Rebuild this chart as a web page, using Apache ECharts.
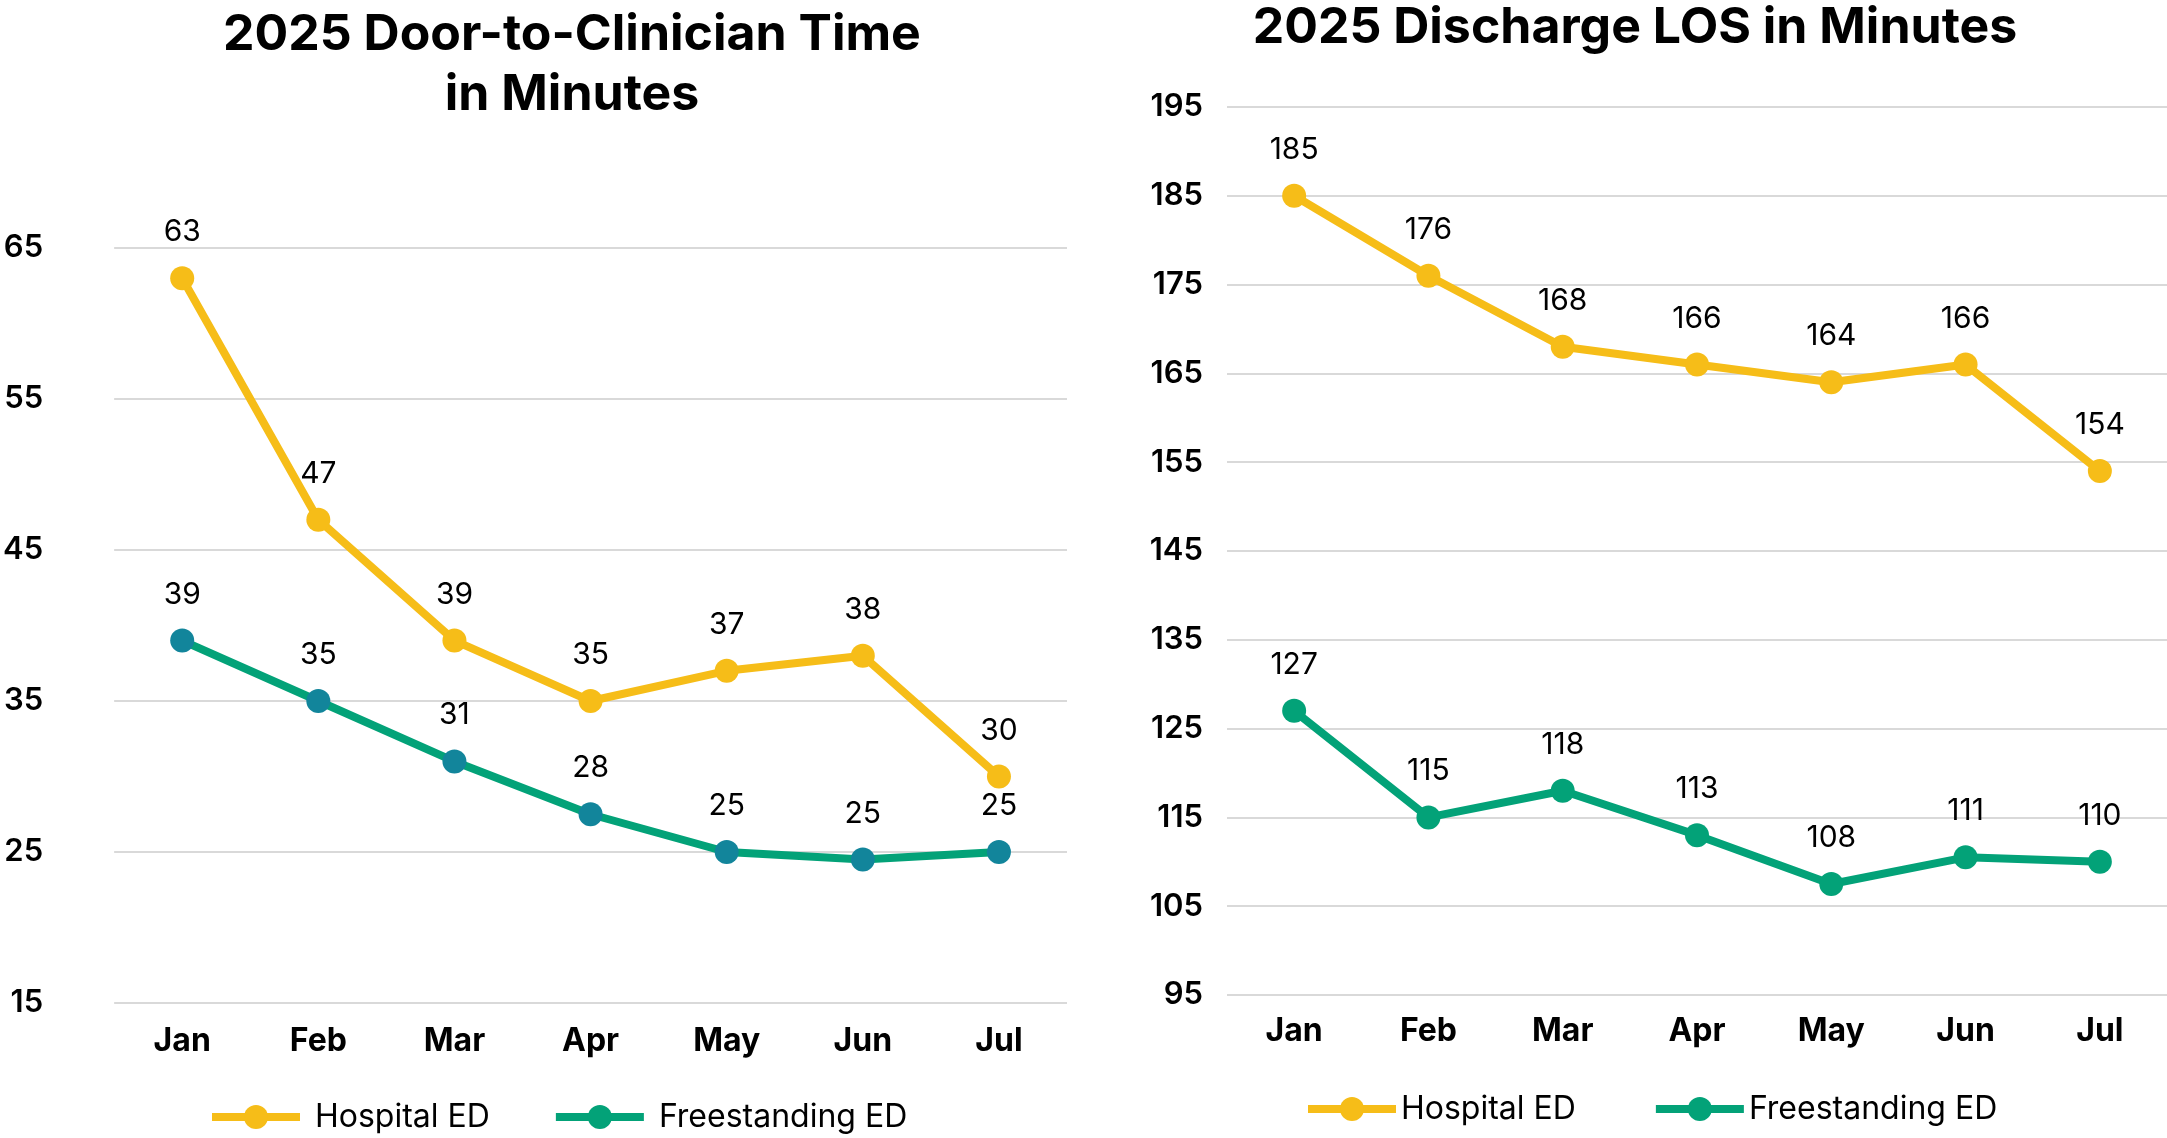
<!DOCTYPE html>
<html>
<head>
<meta charset="utf-8">
<script src="https://cdn.jsdelivr.net/npm/echarts@6/dist/echarts.min.js"></script>
<style>
  html, body { margin: 0; padding: 0; background: #fff; }
  #chart { width: 2167px; height: 1138px; }
</style>
</head>
<body>
<div id="chart"></div>
<script>
  // data
  const months = ["Jan", "Feb", "Mar", "Apr", "May", "Jun", "Jul"];
  const doorHospital = [63, 47, 39, 35, 37, 38, 30];
  const doorFreestanding = [39, 35, 31, 27.5, 25, 24.5, 25];
  const losHospital = [185, 176, 168, 166, 164, 166, 154];
  const losFreestanding = [127, 115, 118, 113, 107.5, 110.5, 110];
  const doorTicks = { min: 15, max: 65, interval: 10 };
  const losTicks = { min: 95, max: 195, interval: 10 };

  const yellow = "#F6BD18";
  const green = "#03A278";
  const teal = "#12859B";
  const font = "Inter";

  const myChart = echarts.init(document.getElementById("chart"));
  window.addEventListener("resize", () => myChart.resize());

  function lineSeries(name, data, axis, lineColor, dotColor) {
    return {
      name: name,
      type: "line",
      xAxisIndex: axis,
      yAxisIndex: axis,
      data: data,
      symbol: "circle",
      symbolSize: 24,
      lineStyle: { color: lineColor, width: 8 },
      itemStyle: { color: dotColor },
      label: {
        show: true,
        position: "top",
        distance: 19,
        fontFamily: font,
        fontSize: 30,
        color: "#000",
        formatter: p => Math.round(p.value)
      },
      emphasis: { disabled: true },
      animation: false
    };
  }

  function xAxis(grid, margin) {
    return {
      type: "category",
      gridIndex: grid,
      data: months,
      axisLine: { show: false },
      axisTick: { show: false },
      axisLabel: { fontFamily: font, fontSize: 32, fontWeight: 700, color: "#000", margin: margin }
    };
  }

  function yAxis(grid, ticks, margin) {
    return {
      type: "value",
      gridIndex: grid,
      min: ticks.min,
      max: ticks.max,
      interval: ticks.interval,
      axisLine: { show: false },
      axisTick: { show: false },
      axisLabel: { fontFamily: font, fontSize: 31, fontWeight: 600, color: "#000", margin: margin },
      splitLine: { lineStyle: { color: "#D9D9D9", width: 2 } }
    };
  }

  function legend(left, top, textGap, itemGap) {
    return {
      left: left, top: top, orient: "horizontal",
      data: [
        { name: "Hospital ED", itemStyle: { color: yellow } },
        { name: "Freestanding ED", itemStyle: { color: green } }
      ],
      itemWidth: 88, itemHeight: 30, itemGap: itemGap,
      selectedMode: false,
      lineStyle: { width: 8 },
      textStyle: { fontFamily: font, fontSize: 32, color: "#000", padding: [0, 0, 0, textGap] }
    };
  }

  const option = {
    backgroundColor: "#fff",
    title: [
      {
        text: "2025 Door-to-Clinician Time\nin Minutes",
        left: 567, top: 0, textAlign: "center",
        textStyle: { fontFamily: font, fontSize: 50, fontWeight: 700, color: "#000", lineHeight: 60 }
      },
      {
        text: "2025 Discharge LOS in Minutes",
        left: 1630, top: -7, textAlign: "center",
        textStyle: { fontFamily: font, fontSize: 50, fontWeight: 700, color: "#000", lineHeight: 60 }
      }
    ],
    legend: [
      legend(203, 1096, 10, 62),
      legend(1299, 1088, 0, 76)
    ],
    grid: [
      { left: 114, top: 248, width: 953, height: 755 },
      { left: 1227, top: 107, width: 940, height: 888 }
    ],
    xAxis: [xAxis(0, 22), xAxis(1, 20)],
    yAxis: [yAxis(0, doorTicks, 71), yAxis(1, losTicks, 24)],
    series: [
      lineSeries("Hospital ED", doorHospital, 0, yellow, yellow),
      lineSeries("Freestanding ED", doorFreestanding, 0, green, teal),
      lineSeries("Hospital ED", losHospital, 1, yellow, yellow),
      lineSeries("Freestanding ED", losFreestanding, 1, green, green)
    ]
  };

  myChart.setOption(option);
</script>
</body>
</html>
